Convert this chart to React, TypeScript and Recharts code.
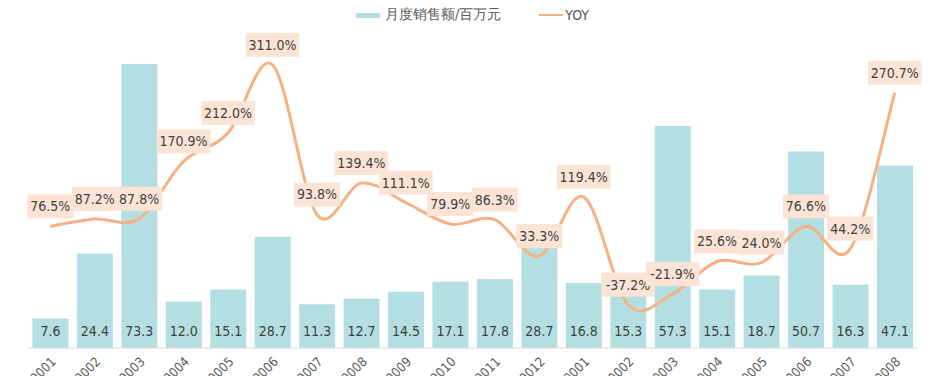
import React from 'react';
import {
  ComposedChart,
  Bar,
  Line,
  XAxis,
  YAxis,
  Legend,
  LabelList,
} from 'recharts';

const months = [
  '2019001', '2019002', '2019003', '2019004', '2019005', '2019006', '2019007',
  '2019008', '2019009', '2019010', '2019011', '2019012',
  '2020001', '2020002', '2020003', '2020004', '2020005', '2020006', '2020007', '2020008',
];
const sales = [7.6, 24.4, 73.3, 12.0, 15.1, 28.7, 11.3, 12.7, 14.5, 17.1, 17.8, 28.7, 16.8, 15.3, 57.3, 15.1, 18.7, 50.7, 16.3, 47.1];
const yoy = [76.5, 87.2, 87.8, 170.9, 212.0, 311.0, 93.8, 139.4, 111.1, 79.9, 86.3, 33.3, 119.4, -37.2, -21.9, 25.6, 24.0, 76.6, 44.2, 270.7];

const data = months.map((m, i) => ({ month: m, sales: sales[i], yoy: yoy[i] }));

const BAR = '#b3dfe2';
const LINE = '#f4b183';
const FONT = '"Liberation Sans Narrow", "Arial Narrow", "DejaVu Sans Condensed", sans-serif';

// excel-like smoothed line (catmull-rom through every point)
const smoothCurve = (context: any) => {
  let pts: number[][] = [];
  return {
    areaStart() {},
    areaEnd() {},
    lineStart() { pts = []; },
    point(x: number, y: number) { pts.push([+x, +y]); },
    lineEnd() {
      if (!pts.length) return;
      context.moveTo(pts[0][0], pts[0][1]);
      for (let i = 0; i < pts.length - 1; i++) {
        const p0 = pts[i - 1] || pts[i];
        const p1 = pts[i];
        const p2 = pts[i + 1];
        const p3 = pts[i + 2] || p2;
        const t = 1 / 6;
        context.bezierCurveTo(
          p1[0] + (p2[0] - p0[0]) * t, p1[1] + (p2[1] - p0[1]) * t,
          p2[0] - (p3[0] - p1[0]) * t, p2[1] - (p3[1] - p1[1]) * t,
          p2[0], p2[1],
        );
      }
    },
  };
};

const YoyLabel = (props: any) => {
  const { x, y, value } = props;
  const text = `${Number(value).toFixed(1)}%`;
  const w = text.length * 7.6 + 8;
  const h = 24;
  const cy = y - 20;
  return (
    <g>
      <rect x={x - w / 2} y={cy - h / 2} width={w} height={h} fill="#fbe4d6" />
      <text x={x} y={cy + 5} textAnchor="middle" fontSize={14} fill="#404040" fontFamily={FONT}>
        {text}
      </text>
    </g>
  );
};

const LegendContent = () => (
  <div style={{ display: 'flex', justifyContent: 'center', fontFamily: FONT, fontSize: 14, color: '#595959' }}>
    <span style={{ display: 'flex', alignItems: 'center', marginRight: 38 }}>
      <span style={{ width: 24, height: 5, background: BAR, marginRight: 5, display: 'inline-block' }} />
      月度销售额/百万元
    </span>
    <span style={{ display: 'flex', alignItems: 'center' }}>
      <span style={{ width: 24, height: 2, background: LINE, marginRight: 2, display: 'inline-block' }} />
      YOY
    </span>
  </div>
);

export default function App() {
  return (
    <div style={{ position: 'absolute', left: 0, top: 0, background: '#fff' }}>
      <ComposedChart
        width={933}
        height={376}
        data={data}
        margin={{ top: 6, right: 16, bottom: 0, left: 28 }}
        barCategoryGap="10%"
      >
        <XAxis
          dataKey="month"
          height={28}
          interval={0}
          angle={-45}
          textAnchor="end"
          tickLine={false}
          axisLine={{ stroke: '#d9d9d9' }}
          tick={{ fontSize: 13, fill: '#595959', fontFamily: FONT }}
        />
        <YAxis yAxisId="left" hide domain={[0, 80]} />
        <YAxis yAxisId="right" orientation="right" hide domain={[-100, 350]} />
        <Legend verticalAlign="top" height={32} content={<LegendContent />} />
        <Bar yAxisId="left" dataKey="sales" name="月度销售额/百万元" fill={BAR} isAnimationActive={false}>
          <LabelList
            dataKey="sales"
            position="insideBottom"
            offset={12}
            formatter={(v: any) => Number(v).toFixed(1)}
            style={{ fontSize: 14, fill: '#404040', fontFamily: FONT }}
          />
        </Bar>
        <Line
          yAxisId="right"
          dataKey="yoy"
          name="YOY"
          type={smoothCurve as any}
          stroke={LINE}
          strokeWidth={3}
          dot={false}
          isAnimationActive={false}
        >
          <LabelList dataKey="yoy" content={<YoyLabel />} />
        </Line>
      </ComposedChart>
    </div>
  );
}
